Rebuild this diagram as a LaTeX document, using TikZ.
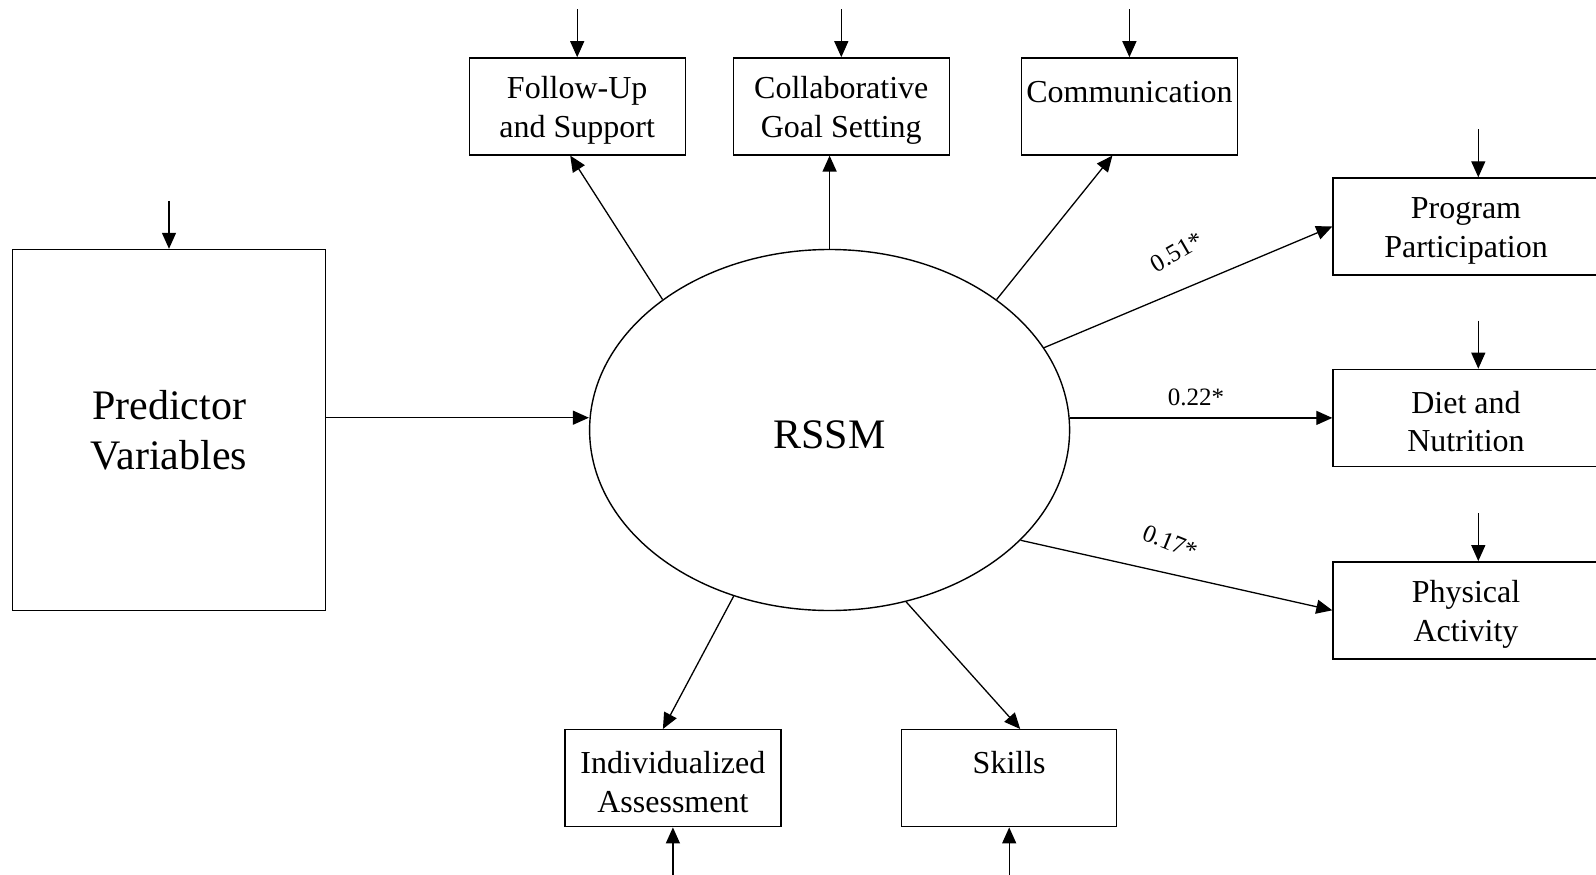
\documentclass[tikz,border=0pt]{standalone}
\usepackage{fontspec}
\setmainfont{Liberation Serif}
\usetikzlibrary{arrows.meta,shapes.geometric}
\newcommand{\hb}{\rule{0pt}{30pt}}
\begin{document}
\begin{tikzpicture}[x=1pt,y=-1pt,
  box/.style={draw, line width=1.4pt, rectangle, inner sep=0pt, align=center,
              minimum height=97pt, font=\fontsize{32}{38.5}\selectfont},
  arr/.style={line width=1.3pt, -{Triangle[length=16pt,width=14pt]}},
  coef/.style={font=\fontsize{25}{30}\selectfont, inner sep=0pt}]
\useasboundingbox (0,0) rectangle (1596,875);

% central latent variable and predictor block
\node[box, minimum width=313pt, minimum height=361pt, font=\fontsize{42}{50}\selectfont] (pv) at (169,430) {Predictor\\Variables};
\node[draw, ellipse, line width=1.4pt, minimum width=480pt, minimum height=361pt, inner sep=0pt,
      text height=37pt, text depth=0pt,
      font=\fontsize{42}{50}\selectfont] (e) at (829.6,430) {RSSM};

% indicator boxes
\node[box, minimum width=216pt] (fu) at (577.2,106.4) {\hb Follow-Up\\and Support};
\node[box, minimum width=216pt] (cg) at (841.3,106.4) {\hb Collaborative\\Goal Setting};
\node[box, minimum width=216pt] (cm) at (1129.4,106.4) {\hb Communication\\\mbox{}};
\node[box, minimum width=216pt] (ia) at (672.9,778.2) {\hb Individualized\\Assessment};
\node[box, minimum width=215pt] (sk) at (1009.2,778.2) {\hb Skills\\\mbox{}};

% outcome boxes
\node[box, minimum width=266pt] (pp) at (1466,226.5) {\hb Program\\Participation};
\node[box, minimum width=266pt] (dn) at (1466,417.9) {\hb Diet and\\Nutrition};
\node[box, minimum width=266pt] (pa) at (1466,610.3) {\hb Physical\\Activity};

% error / input arrows
\coordinate (pvi) at ([yshift=48pt]pv.north);
\coordinate (fui) at ([yshift=48pt]fu.north);
\coordinate (cgi) at ([yshift=48pt]cg.north);
\coordinate (cmi) at ([yshift=48pt]cm.north);
\coordinate (ppi) at ([shift={(12.3pt,48pt)}]pp.north);
\coordinate (dni) at ([shift={(12.3pt,48pt)}]dn.north);
\coordinate (pai) at ([shift={(12.3pt,48pt)}]pa.north);
\coordinate (iai) at ([yshift=-50pt]ia.south);
\coordinate (ski) at ([yshift=-50pt]sk.south);
\draw[arr] (pvi) -- (pvi |- pv.north);
\draw[arr] (fui) -- (fui |- fu.north);
\draw[arr] (cgi) -- (cgi |- cg.north);
\draw[arr] (cmi) -- (cmi |- cm.north);
\draw[arr] (ppi) -- (ppi |- pp.north);
\draw[arr] (dni) -- (dni |- dn.north);
\draw[arr] (pai) -- (pai |- pa.north);
\draw[arr] (iai) -- (iai |- ia.south);
\draw[arr] (ski) -- (ski |- sk.south);

% structural arrows
\draw[arr] ([yshift=12.3pt]pv.east) -- ([yshift=12.3pt]pv.east -| e.west);
\draw[arr] (e.142) -- ([xshift=-7pt]fu.south);
\draw[arr] (e.north) -- (e.north |- cg.south);
\draw[arr] (e.38) -- ([xshift=-17pt]cm.south);
\draw[arr] (e.-120.5) -- ([xshift=-10pt]ia.north);
\draw[arr] (e.-66) -- ([xshift=11pt]sk.north);
\draw[arr] (e.21) -- (pp.west);
\draw[arr] (dn.west -| e.east) -- (dn.west);
\draw[arr] (e.-30) -- (pa.west);

% coefficients
\node[coef, rotate=30] (l51) at (1177,252) {0.51*};
\node[coef] (l22) at (1196,397) {0.22*};
\node[coef, rotate=-22] (l17) at (1170,542) {0.17*};
\end{tikzpicture}
\end{document}
